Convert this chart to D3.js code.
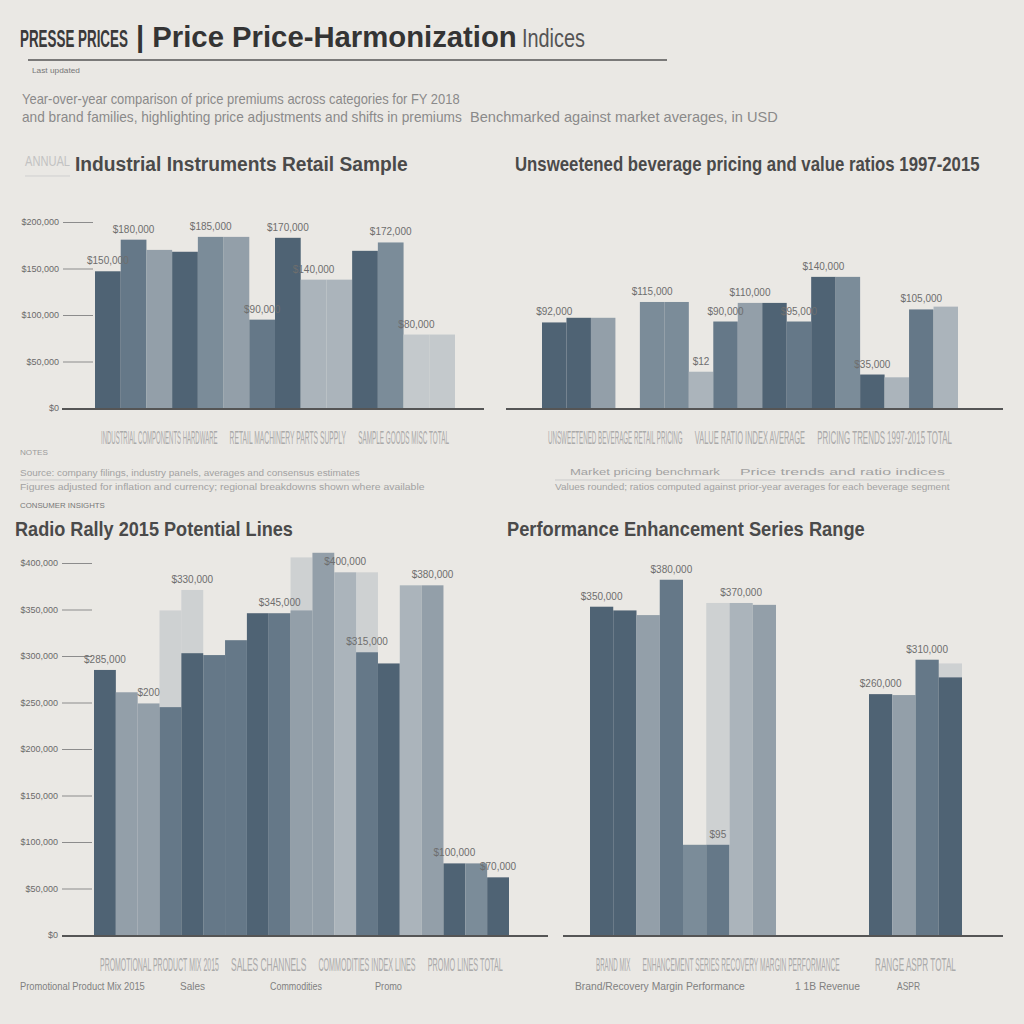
<!DOCTYPE html>
<html>
<head>
<meta charset="utf-8">
<script src="https://cdn.jsdelivr.net/npm/d3@7"></script>
<style>
  body { margin: 0; background: #eae8e4; }
  svg { display: block; font-family: "Liberation Sans", Arial, sans-serif; }
</style>
</head>
<body>
<div id="chart"></div>
<script>
// ---- data ----
const seriesKeys = ['A', 'B', 'C', 'D', 'E', 'F'];

// panel 1: industrial sample
const p1Keys = ['i01', 'i02', 'i03', 'i04', 'i05', 'i06', 'i07', 'i08', 'i09', 'i10', 'i11', 'i12', 'i13', 'i14'];
const p1Values = [147, 181, 170, 168, 184, 184, 95, 183, 138, 138, 169, 178, 79, 79];
const p1Series = ['A', 'B', 'D', 'A', 'C', 'D', 'B', 'A', 'E', 'E', 'A', 'C', 'F', 'F'];
const p1Labels = ['$150,000', '$180,000', '', '', '$185,000', '', '$90,000', '$170,000', '$140,000', '', '', '$172,000', '$80,000', ''];
const p1Ticks = [0, 50, 100, 150, 200];
const p1TickLabels = ['$0', '$50,000', '$100,000', '$150,000', '$200,000'];
const p1Groups = [
  { name: 'INDUSTRIAL COMPONENTS HARDWARE', from: 0, to: 4 },
  { name: 'RETAIL MACHINERY PARTS SUPPLY', from: 5, to: 9 },
  { name: 'SAMPLE GOODS MISC TOTAL', from: 10, to: 13 }
];

// panel 2: beverage pricing
const p2Keys = ['b01', 'b02', 'b03', 'b04', 'b05', 'b06', 'b07', 'b08', 'b09', 'b10', 'b11', 'b12', 'b13', 'b14', 'b15', 'b16', 'b17'];
const p2Values = [92, 97, 97, 0, 114, 114, 39, 93, 113, 113, 93, 141, 141, 36, 33, 106, 109];
const p2Series = ['A', 'A', 'D', 'A', 'C', 'C', 'E', 'B', 'D', 'A', 'B', 'A', 'C', 'A', 'E', 'B', 'E'];
const p2Labels = ['$92,000', '', '', '', '$115,000', '', '$12', '$90,000', '$110,000', '', '$95,000', '$140,000', '', '$35,000', '', '$105,000', ''];
const p2Groups = [
  { name: 'UNSWEETENED BEVERAGE RETAIL PRICING', from: 0, to: 5 },
  { name: 'VALUE RATIO INDEX AVERAGE', from: 6, to: 10 },
  { name: 'PRICING TRENDS 1997-2015 TOTAL', from: 11, to: 16 }
];

// panel 3: radio rally
const p3Keys = ['r01', 'r02', 'r03', 'r04', 'r05', 'r06', 'r07', 'r08', 'r09', 'r10', 'r11', 'r12', 'r13', 'r14', 'r15', 'r16', 'r17', 'r18', 'r19'];
const p3Values = [285, 261, 249, 245, 303, 301, 317, 346, 346, 349, 411, 390, 304, 292, 376, 376, 77, 77, 62];
const p3Ghost = [0, 0, 0, 349, 371, 0, 0, 0, 0, 406, 0, 0, 390, 0, 0, 0, 0, 0, 0];
const p3Series = ['A', 'D', 'D', 'B', 'A', 'B', 'B', 'A', 'B', 'D', 'D', 'E', 'B', 'A', 'E', 'D', 'A', 'C', 'A'];
const p3Labels = ['$285,000', '', '$200', '', '', '', '', '', '$345,000', '', '', '$400,000', '$315,000', '', '', '$380,000', '$100,000', '', '$70,000'];
const p3GhostLabels = ['', '', '', '', '$330,000', '', '', '', '', '', '', '', '', '', '', '', '', '', ''];
const p3Ticks = [0, 50, 100, 150, 200, 250, 300, 350, 400];
const p3TickLabels = ['$0', '$50,000', '$100,000', '$150,000', '$200,000', '$250,000', '$300,000', '$350,000', '$400,000'];
const p3Groups = [
  { name: 'PROMOTIONAL PRODUCT MIX 2015', from: 0, to: 5 },
  { name: 'SALES CHANNELS', from: 6, to: 9 },
  { name: 'COMMODITIES INDEX LINES', from: 10, to: 14 },
  { name: 'PROMO LINES TOTAL', from: 15, to: 18 }
];
const p3Categories = ['Promotional Product Mix 2015', 'Sales', 'Commodities', 'Promo'];

// panel 4: performance enhancement
const p4Keys = ['e01', 'e02', 'e03', 'e04', 'e05', 'e06', 'e07', 'e08', 'e09', 'e10', 'e11', 'e12', 'e13', 'e14', 'e15', 'e16'];
const p4Values = [353, 349, 344, 382, 97, 97, 357, 355, 0, 0, 0, 0, 259, 258, 296, 277];
const p4Ghost = [0, 0, 0, 0, 0, 357, 0, 0, 0, 0, 0, 0, 0, 0, 0, 292];
const p4Series = ['A', 'A', 'D', 'B', 'C', 'B', 'E', 'D', 'A', 'A', 'A', 'A', 'A', 'D', 'B', 'A'];
const p4Labels = ['$350,000', '', '', '$380,000', '', '$95', '$370,000', '', '', '', '', '', '$260,000', '', '$310,000', ''];
const p4Groups = [
  { name: 'BRAND MIX', from: 0, to: 1 },
  { name: 'ENHANCEMENT SERIES RECOVERY MARGIN PERFORMANCE', from: 2, to: 10 },
  { name: 'RANGE ASPR TOTAL', from: 12, to: 15 }
];
const p4Categories = ['Brand/Recovery Margin Performance', '1 1B Revenue', 'ASPR'];

// ---- setup ----
const W = 1024;
const H = 1024;
const sans = '"Liberation Sans", Arial, sans-serif';

const color = d3.scaleOrdinal()
  .domain(seriesKeys)
  .range(['#4f6374', '#657888', '#7b8c99', '#939fa9', '#abb4bb', '#c4c9cc']);

const svg = d3.select('#chart')
  .append('svg')
  .attr('width', W)
  .attr('height', H);

svg.append('rect').attr('width', W).attr('height', H).attr('fill', '#eae8e4');

// text squeezed (or widened) horizontally to a wanted width
const txt = (x, y, s, opts = {}) => {
  const g = svg.append('g').attr('transform', `translate(${x}, ${y})`);
  const inner = g.append('g');
  const t = inner.append('text')
    .attr('fill', opts.fill || '#777')
    .style('font-size', `${opts.size || 10}px`)
    .style('font-family', opts.family || sans)
    .style('font-weight', opts.weight || 'normal')
    .text(s);
  if (opts.len) {
    const natural = t.node().getComputedTextLength();
    inner.attr('transform', `scale(${(opts.len / natural).toFixed(4)}, 1)`);
  }
  return t;
};

// ---- header ----
txt(20, 47, 'PRESSE PRICES', { size: 24, weight: 'bold', fill: '#3a3a3a', len: 108 });
txt(136, 47, '| Price Price-Harmonization', { size: 30, weight: 'bold', fill: '#343434', len: 381 });
txt(522, 47, 'Indices', { size: 26, fill: '#555', len: 63 });
svg.append('line').attr('x1', 28).attr('x2', 667).attr('y1', 60).attr('y2', 60)
  .attr('stroke', '#555').attr('stroke-width', 1.3);
txt(32, 73, 'Last updated', { size: 8, fill: '#777', len: 48 });
txt(22, 104, 'Year-over-year comparison of price premiums across categories for FY 2018', { size: 14, fill: '#8a8a8a', len: 438 });
txt(22, 122, 'and brand families, highlighting price adjustments and shifts in premiums', { size: 14, fill: '#8a8a8a', len: 440 });
txt(470, 122, 'Benchmarked against market averages, in USD', { size: 14, fill: '#8a8a8a', len: 308 });

// ---- panel drawing ----
const drawPanel = (p) => {
  const x = d3.scaleBand().domain(p.keys).range([p.x0, p.x1]).padding(0);
  const y = d3.scaleLinear().domain(p.domain).range([p.base, p.top]);
  const g = svg.append('g');

  // y axis
  if (p.ticks) {
    g.append('g')
      .attr('transform', `translate(${p.axisX}, 0)`)
      .call(d3.axisLeft(y).tickValues(p.ticks).tickFormat((d, i) => p.tickLabels[i]).tickSize(-p.tickLen).tickPadding(4))
      .call((a) => a.select('.domain').remove())
      .call((a) => a.selectAll('line').attr('stroke', '#8c8c8c'))
      .call((a) => a.selectAll('text').attr('fill', '#6a6a6a').style('font-size', '9px').style('font-family', sans));
  }

  // ghost bars behind
  if (p.ghost) {
    g.selectAll('rect.ghost')
      .data(p.ghost)
      .join('rect')
      .attr('class', 'ghost')
      .attr('x', (d, i) => x(p.keys[i]))
      .attr('y', (d) => y(d))
      .attr('width', x.bandwidth())
      .attr('height', (d) => y(0) - y(d))
      .attr('fill', '#c9cdcf')
      .attr('opacity', 0.85);
  }

  // bars
  g.selectAll('rect.bar')
    .data(p.values)
    .join('rect')
    .attr('class', 'bar')
    .attr('x', (d, i) => x(p.keys[i]))
    .attr('y', (d) => y(d))
    .attr('width', x.bandwidth())
    .attr('height', (d) => y(0) - y(d))
    .attr('fill', (d, i) => color(p.series[i]));

  // value labels (front bars, then ghost bars)
  const addLabels = (labels, levels, cls) => {
    g.selectAll(`text.${cls}`)
      .data(labels)
      .join('text')
      .attr('class', cls)
      .attr('x', (d, i) => x(p.keys[i]) + x.bandwidth() / 2)
      .attr('y', (d, i) => y(levels[i]) - 7)
      .attr('text-anchor', 'middle')
      .attr('fill', '#6e6e6e')
      .style('font-size', '10px')
      .style('font-family', sans)
      .text((d) => d);
  };
  addLabels(p.labels, p.values, 'val');
  if (p.ghostLabels) addLabels(p.ghostLabels, p.ghost, 'gval');

  // baseline
  g.append('line')
    .attr('x1', p.lineX0).attr('x2', p.lineX1)
    .attr('y1', y(0) + 1).attr('y2', y(0) + 1)
    .attr('stroke', '#555')
    .attr('stroke-width', 2);

  // blurred group labels under the axis
  p.groups.forEach((d) => {
    const gx = x(p.keys[d.from]) + 6;
    const gw = x(p.keys[d.to]) + x.bandwidth() - x(p.keys[d.from]) - 12;
    txt(gx, y(0) + p.groupOffset, d.name, { size: 18, fill: '#aaaaaa', len: gw });
  });

  // panel title
  txt(p.titleX, p.titleY, p.title, { size: 20, weight: 'bold', fill: '#4a4a4a', len: p.titleLen });
};

drawPanel({
  keys: p1Keys, values: p1Values, series: p1Series, labels: p1Labels, groups: p1Groups,
  ticks: p1Ticks, tickLabels: p1TickLabels, axisX: 63, tickLen: 30,
  domain: [0, 200], x0: 95, x1: 455, base: 408, top: 222,
  lineX0: 62, lineX1: 484, groupOffset: 36,
  title: 'Industrial Instruments Retail Sample', titleX: 75, titleY: 171, titleLen: 333
});

drawPanel({
  keys: p2Keys, values: p2Values, series: p2Series, labels: p2Labels, groups: p2Groups,
  domain: [0, 200], x0: 542, x1: 958, base: 408, top: 222,
  lineX0: 506, lineX1: 1003, groupOffset: 36,
  title: 'Unsweetened beverage pricing and value ratios 1997-2015', titleX: 515, titleY: 171, titleLen: 465
});

drawPanel({
  keys: p3Keys, values: p3Values, ghost: p3Ghost, series: p3Series, labels: p3Labels, ghostLabels: p3GhostLabels, groups: p3Groups,
  ticks: p3Ticks, tickLabels: p3TickLabels, axisX: 62, tickLen: 30,
  domain: [0, 400], x0: 94, x1: 509, base: 935, top: 563,
  lineX0: 62, lineX1: 548, groupOffset: 36,
  title: 'Radio Rally 2015 Potential Lines', titleX: 15, titleY: 536, titleLen: 278
});

drawPanel({
  keys: p4Keys, values: p4Values, ghost: p4Ghost, series: p4Series, labels: p4Labels, groups: p4Groups,
  domain: [0, 400], x0: 590, x1: 962, base: 935, top: 563,
  lineX0: 563, lineX1: 1003, groupOffset: 36,
  title: 'Performance Enhancement Series Range', titleX: 507, titleY: 536, titleLen: 358
});

// ---- decorations and notes ----
txt(25, 166, 'ANNUAL', { size: 15, fill: '#c2c2c2', len: 45 });
svg.append('line').attr('x1', 25).attr('x2', 70).attr('y1', 176).attr('y2', 176).attr('stroke', '#cfcfcf');

txt(20, 455, 'NOTES', { size: 8, fill: '#9a9a9a', len: 28 });
txt(20, 476, 'Source: company filings, industry panels, averages and consensus estimates', { size: 9, fill: '#a2a2a2', len: 340 });
txt(20, 490, 'Figures adjusted for inflation and currency; regional breakdowns shown where available', { size: 9, fill: '#a2a2a2', len: 405 });
svg.append('line').attr('x1', 20).attr('x2', 360).attr('y1', 480).attr('y2', 480).attr('stroke', '#cbcbcb');

txt(570, 475, 'Market pricing benchmark', { size: 9, fill: '#a2a2a2', len: 150 });
txt(740, 475, 'Price trends and ratio indices', { size: 9, fill: '#a2a2a2', len: 205 });
txt(555, 490, 'Values rounded; ratios computed against prior-year averages for each beverage segment', { size: 9, fill: '#a2a2a2', len: 395 });
svg.append('line').attr('x1', 555).attr('x2', 950).attr('y1', 480).attr('y2', 480).attr('stroke', '#cbcbcb');

txt(20, 508, 'CONSUMER INSIGHTS', { size: 8, fill: '#777', len: 85 });

// category notes under bottom panels
const p3CatX = [20, 180, 270, 375];
const p3CatLen = [125, 25, 52, 27];
p3Categories.forEach((c, i) => txt(p3CatX[i], 990, c, { size: 10, fill: '#808080', len: p3CatLen[i] }));
const p4CatX = [575, 795, 897];
const p4CatLen = [170, 65, 23];
p4Categories.forEach((c, i) => txt(p4CatX[i], 990, c, { size: 10, fill: '#808080', len: p4CatLen[i] }));
</script>
</body>
</html>
